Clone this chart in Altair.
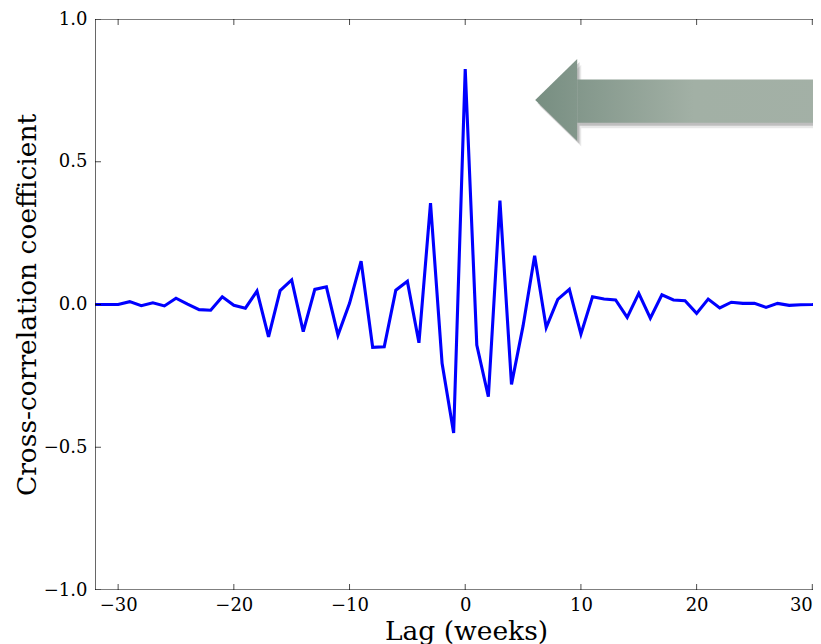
import altair as alt
import pandas as pd

# Cross-correlation by lag (weeks)
lags = list(range(-32, 33))
xcorr = [
    0.0, 0.0, 0.0, 0.01, -0.004, 0.006, -0.005, 0.022, 0.001, -0.018,   # -32..-23
    -0.02, 0.027, -0.003, -0.013, 0.047, -0.113, 0.049, 0.086, -0.095, 0.053,  # -22..-13
    0.062, -0.107, 0.004, 0.152, -0.15, -0.148, 0.05, 0.081, -0.134, 0.355,  # -12..-3
    -0.206, -0.45, 0.825, -0.142, -0.323, 0.364, -0.28, -0.075, 0.171, -0.081,  # -2..7
    0.018, 0.053, -0.104, 0.027, 0.019, 0.016, -0.045, 0.039, -0.048, 0.034,  # 8..17
    0.016, 0.013, -0.031, 0.019, -0.012, 0.008, 0.004, 0.004, -0.01, 0.004,  # 18..27
    -0.003, -0.001, 0.0, 0.002, 0.002,  # 28..32
]

x_ticks = [-30, -20, -10, 0, 10, 20, 30]
y_ticks = [-1.0, -0.5, 0.0, 0.5, 1.0]

# Arrow annotation (data units): triangular head + rectangular shaft
head_x = [6.05, 9.68]
head_top = [0.716, 0.860]
head_bottom = [0.716, 0.573]
shaft_x0 = [9.68]
shaft_x1 = [32.0]
shaft_top = [0.788]
shaft_bottom = [0.637]

# Frame (axes box)
x_min, x_max = -32.0, 32.0
y_min, y_max = -1.0, 1.0

df = pd.DataFrame({"lag": lags, "r": xcorr})
head_df = pd.DataFrame({"hx": head_x, "ht": head_top, "hb": head_bottom})
shaft_df = pd.DataFrame({"sx0": shaft_x0, "sx1": shaft_x1, "st": shaft_top, "sb": shaft_bottom})
frame_df = pd.DataFrame({"x0": [x_min], "x1": [x_max], "y0": [y_min], "y1": [y_max]})
xtick_df = pd.DataFrame({"tx": x_ticks * 2, "ty": [y_min] * len(x_ticks) + [y_max] * len(x_ticks)})
ytick_df = pd.DataFrame({"ty": y_ticks, "tx": [x_min] * len(y_ticks)})

FONT = "DejaVu Serif"
xscale = alt.Scale(domain=[-32, 30.06], nice=False, zero=False)
yscale = alt.Scale(domain=[-1, 1], nice=False, zero=False)

XAXIS = alt.Axis(
    values=x_ticks, format="d", title="Lag (weeks)", ticks=False, tickSize=0,
    domain=False, grid=False, labelPadding=6, titleX=371, titleY=49,
    titleBaseline="alphabetic",
)
YAXIS = alt.Axis(
    values=y_ticks, format=".1f", title="Cross-correlation coefficient",
    ticks=False, tickSize=0, domain=False, grid=False, labelPadding=8,
    titleX=-60, titleBaseline="alphabetic",
)


def X(field):
    return alt.X(field, type="quantitative", scale=xscale, axis=XAXIS)


def Y(field):
    return alt.Y(field, type="quantitative", scale=yscale, axis=YAXIS)


line = alt.Chart(df).mark_line(color="#0000ff", strokeWidth=3.1, clip=True).encode(
    x=X("lag"), y=Y("r"),
)


def head_layer(dx, dy, **mark):
    return alt.Chart(head_df).transform_calculate(
        px=f"datum.hx + {dx}", pt=f"datum.ht + {dy}", pb=f"datum.hb + {dy}"
    ).mark_area(clip=True, **mark).encode(
        x=X("px"), y=Y("pt"), y2="pb:Q",
    )


def shaft_layer(dx, dy, **mark):
    return alt.Chart(shaft_df).transform_calculate(
        a=f"datum.sx0 + {dx}", b=f"datum.sx1 + {dx}",
        t=f"datum.st + {dy}", u=f"datum.sb + {dy}",
    ).mark_rect(clip=True, **mark).encode(
        x=X("a"), x2="b:Q", y=Y("t"), y2="u:Q",
    )


head_grad = alt.LinearGradient(
    gradient="linear",
    stops=[alt.GradientStop(color="#778e81", offset=0.0),
           alt.GradientStop(color="#83978b", offset=1.0)],
    x1=0, x2=1, y1=0, y2=0,
)
shaft_grad = alt.LinearGradient(
    gradient="linear",
    stops=[alt.GradientStop(color="#83978b", offset=0.0),
           alt.GradientStop(color="#a2b0a5", offset=0.45),
           alt.GradientStop(color="#a3b0a6", offset=1.0)],
    x1=0, x2=1, y1=0, y2=0,
)

shadows = [
    head_layer(0.35, -0.02, color="#000000", opacity=0.09),
    shaft_layer(0.35, -0.02, color="#000000", opacity=0.09),
    head_layer(0.2, -0.011, color="#000000", opacity=0.18),
    shaft_layer(0.2, -0.011, color="#000000", opacity=0.18),
]
arrow = [
    head_layer(0, 0, color=head_grad),
    shaft_layer(0, 0, color=shaft_grad),
]

frame_h = alt.Chart(frame_df).transform_fold(["y0", "y1"], as_=["side", "fy"]).mark_rule(
    color="black", strokeWidth=1.2, clip=True
).encode(
    x=X("x0"), x2="x1:Q", y=Y("fy"),
)
frame_left = alt.Chart(frame_df).mark_rule(color="black", strokeWidth=1.2, clip=True).encode(
    x=X("x0"), y=Y("y0"), y2="y1:Q",
)
xticks_marks = alt.Chart(xtick_df).mark_tick(
    orient="vertical", size=12, thickness=1, color="black", clip=True
).encode(x=X("tx"), y=Y("ty"))
yticks_marks = alt.Chart(ytick_df).mark_tick(
    orient="horizontal", size=12, thickness=1, color="black", clip=True
).encode(x=X("tx"), y=Y("ty"))

chart = alt.layer(
    line, *shadows, *arrow, frame_h, frame_left, xticks_marks, yticks_marks
).properties(
    width=718, height=571,
    background="white",
    autosize=alt.AutoSizeParams(type="none"),
    padding={"left": 87, "top": 11, "right": 0, "bottom": 54},
).configure_view(stroke=None).configure_axis(
    labelFont=FONT, labelFontSize=18, labelColor="black",
    titleFont=FONT, titleFontSize=26.5, titleFontWeight="normal", titleColor="black",
)

chart.save("out.html", embed_options={"renderer": "svg", "actions": False})
